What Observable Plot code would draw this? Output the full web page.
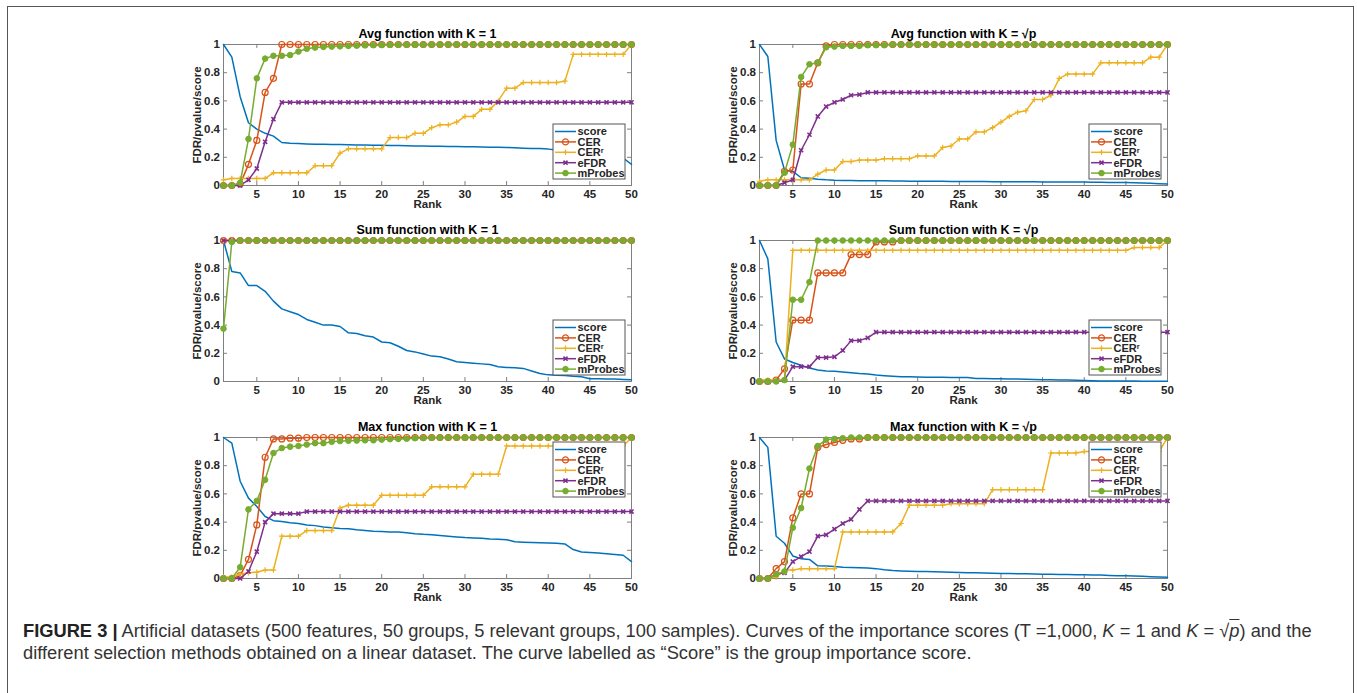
<!DOCTYPE html>
<html>
<head>
<meta charset="utf-8">
<script src="https://cdn.jsdelivr.net/npm/d3@7"></script>
<script src="https://cdn.jsdelivr.net/npm/@observablehq/plot@0.6"></script>
<style>
  body { margin: 0; background: #fff; }
  #page { position: relative; width: 1357px; height: 693px; overflow: hidden; background: #fff;
          font-family: "Liberation Sans", Arial, Helvetica, sans-serif; }
  #border { position: absolute; left: 7px; top: 6px; width: 1347px; height: 720px;
            border: 1.5px solid #555; box-sizing: border-box; }
  .panel { position: absolute; }
  #caption { position: absolute; left: 23px; top: 620px; font-size: 15.5px; line-height: 22px;
             color: #333; white-space: nowrap; }
  #caption b { color: #222; }
</style>
</head>
<body>
<div id="page">
  <div id="border"></div>
  <div id="caption"><span id="cap1"><b>FIGURE 3 |</b> Artificial datasets (500 features, 50 groups, 5 relevant groups, 100 samples). Curves of the importance scores (T =1,000, <i>K</i> = 1 and <i>K</i> = √<span style="text-decoration:overline"><i>p</i></span>) and the</span><br><span id="cap2">different selection methods obtained on a linear dataset. The curve labelled as “Score” is the group importance score.</span></div>
</div>
<script>
// ---- shared axes ----
const ranks = d3.range(1, 51);
const xTicks = [5, 10, 15, 20, 25, 30, 35, 40, 45, 50];
const yTicks = [0, 0.2, 0.4, 0.6, 0.8, 1];
const yTickLabels = ["0", "0.2", "0.4", "0.6", "0.8", "1"];
const xLabel = "Rank";
const yLabel = "FDR/pvalue/score";

// ---- series ----
const seriesNames = ["score", "CER", "CERr", "eFDR", "mProbes"];
const seriesColors = ["#0072BD", "#D95319", "#EDB120", "#7E2F8E", "#77AC30"];

// ---- Avg function, K = 1 ----
const avg1Score = [1.00,0.91,0.63,0.445,0.40,0.37,0.35,0.305,0.30,0.298,
  0.295,0.293,0.292,0.291,0.290,0.289,0.288,0.287,0.286,0.285,
  0.284,0.283,0.282,0.281,0.280,0.279,0.278,0.277,0.276,0.275,
  0.274,0.273,0.272,0.271,0.270,0.268,0.265,0.263,0.262,0.258,
  0.252,0.248,0.245,0.242,0.240,0.235,0.228,0.215,0.195,0.150];
const avg1CER = [0,0,0.01,0.15,0.32,0.66,0.76,1,1,1,
  1,1,1,1,1,1,1,1,1,1, 1,1,1,1,1,1,1,1,1,1, 1,1,1,1,1,1,1,1,1,1, 1,1,1,1,1,1,1,1,1,1];
const avg1CERr = [0.04,0.05,0.05,0.05,0.05,0.05,0.09,0.09,0.09,0.09,
  0.09,0.14,0.14,0.14,0.23,0.26,0.26,0.26,0.26,0.26,
  0.34,0.34,0.34,0.37,0.37,0.41,0.43,0.43,0.45,0.49,
  0.49,0.54,0.54,0.60,0.69,0.69,0.73,0.73,0.73,0.73,
  0.73,0.74,0.93,0.93,0.93,0.93,0.93,0.93,0.93,1.00];
const avg1eFDR = [0,0,0,0.04,0.12,0.31,0.47,0.59,0.59,0.59,
  0.59,0.59,0.59,0.59,0.59,0.59,0.59,0.59,0.59,0.59, 0.59,0.59,0.59,0.59,0.59,0.59,0.59,0.59,0.59,0.59,
  0.59,0.59,0.59,0.59,0.59,0.59,0.59,0.59,0.59,0.59, 0.59,0.59,0.59,0.59,0.59,0.59,0.59,0.59,0.59,0.59];
const avg1mProbes = [0,0,0.02,0.33,0.76,0.90,0.92,0.92,0.925,0.95,
  0.97,0.978,0.983,0.985,0.987,0.99,0.992,0.994,0.995,0.996,
  0.997,0.998,0.998,0.999,0.999,1,1,1,1,1, 1,1,1,1,1,1,1,1,1,1, 1,1,1,1,1,1,1,1,1,1];

// ---- Avg function, K = sqrt(p) ----
const avgPScore = [1.00,0.915,0.32,0.11,0.10,0.055,0.052,0.045,0.040,0.037,
  0.036,0.035,0.034,0.034,0.033,0.033,0.032,0.032,0.031,0.031,
  0.030,0.030,0.030,0.029,0.029,0.028,0.028,0.028,0.027,0.027,
  0.027,0.026,0.026,0.026,0.025,0.025,0.025,0.024,0.024,0.024,
  0.023,0.023,0.022,0.022,0.021,0.020,0.018,0.016,0.013,0.010];
const avgPCER = [0,0,0,0.10,0.11,0.72,0.72,0.87,0.99,1,
  1,1,1,1,1,1,1,1,1,1, 1,1,1,1,1,1,1,1,1,1, 1,1,1,1,1,1,1,1,1,1, 1,1,1,1,1,1,1,1,1,1];
const avgPCERr = [0.03,0.04,0.04,0.04,0.04,0.04,0.04,0.08,0.11,0.11,
  0.17,0.17,0.18,0.18,0.18,0.19,0.19,0.19,0.19,0.21,
  0.21,0.21,0.27,0.28,0.33,0.33,0.38,0.38,0.41,0.45,
  0.49,0.52,0.53,0.61,0.61,0.64,0.76,0.79,0.79,0.79,
  0.79,0.87,0.87,0.87,0.87,0.87,0.87,0.91,0.91,1.00];
const avgPeFDR = [0,0,0,0.02,0.04,0.25,0.36,0.49,0.56,0.59,
  0.61,0.64,0.645,0.66,0.66,0.66,0.66,0.66,0.66,0.66, 0.66,0.66,0.66,0.66,0.66,0.66,0.66,0.66,0.66,0.66,
  0.66,0.66,0.66,0.66,0.66,0.66,0.66,0.66,0.66,0.66, 0.66,0.66,0.66,0.66,0.66,0.66,0.66,0.66,0.66,0.66];
const avgPmProbes = [0,0,0,0.09,0.29,0.77,0.86,0.87,0.98,0.985,
  0.99,0.99,0.99,0.995,0.995,0.995,1,1,1,1, 1,1,1,1,1,1,1,1,1,1, 1,1,1,1,1,1,1,1,1,1, 1,1,1,1,1,1,1,1,1,1];

// ---- Sum function, K = 1 ----
const sum1Score = [1.00,0.78,0.77,0.68,0.68,0.64,0.57,0.515,0.495,0.475,
  0.44,0.42,0.40,0.40,0.39,0.345,0.34,0.325,0.315,0.28,
  0.275,0.25,0.22,0.21,0.195,0.18,0.175,0.16,0.14,0.135,
  0.13,0.125,0.12,0.105,0.10,0.097,0.093,0.075,0.057,0.047,
  0.045,0.043,0.037,0.033,0.02,0.02,0.018,0.017,0.015,0.012];
const sum1CER = [1,1,1,1,1,1,1,1,1,1, 1,1,1,1,1,1,1,1,1,1, 1,1,1,1,1,1,1,1,1,1, 1,1,1,1,1,1,1,1,1,1, 1,1,1,1,1,1,1,1,1,1];
const sum1CERr = [1,1,1,1,1,1,1,1,1,1, 1,1,1,1,1,1,1,1,1,1, 1,1,1,1,1,1,1,1,1,1, 1,1,1,1,1,1,1,1,1,1, 1,1,1,1,1,1,1,1,1,1];
const sum1eFDR = [1,1,1,1,1,1,1,1,1,1, 1,1,1,1,1,1,1,1,1,1, 1,1,1,1,1,1,1,1,1,1, 1,1,1,1,1,1,1,1,1,1, 1,1,1,1,1,1,1,1,1,1];
const sum1mProbes = [0.375,0.99,1,1,1,1,1,1,1,1, 1,1,1,1,1,1,1,1,1,1, 1,1,1,1,1,1,1,1,1,1, 1,1,1,1,1,1,1,1,1,1, 1,1,1,1,1,1,1,1,1,1];

// ---- Sum function, K = sqrt(p) ----
const sumPScore = [1.00,0.87,0.28,0.16,0.135,0.115,0.095,0.082,0.075,0.072,
  0.068,0.062,0.056,0.053,0.046,0.041,0.037,0.034,0.033,0.032,
  0.031,0.030,0.030,0.029,0.029,0.028,0.022,0.021,0.020,0.019,
  0.018,0.017,0.016,0.014,0.013,0.012,0.011,0.010,0.008,0.007,
  0.005,0.004,0.004,0.003,0.003,0.003,0.002,0.002,0.002,0.002];
const sumPCER = [0,0,0.01,0.09,0.435,0.435,0.435,0.77,0.77,0.77,
  0.77,0.90,0.90,0.90,0.99,0.99,0.99,1,1,1, 1,1,1,1,1,1,1,1,1,1, 1,1,1,1,1,1,1,1,1,1, 1,1,1,1,1,1,1,1,1,1];
const sumPCERr = [0.01,0.01,0.01,0.01,0.93,0.93,0.93,0.93,0.93,0.93,
  0.93,0.93,0.93,0.93,0.93,0.93,0.93,0.93,0.93,0.93, 0.93,0.93,0.93,0.93,0.93,0.93,0.93,0.93,0.93,0.93,
  0.93,0.93,0.93,0.93,0.93,0.93,0.93,0.93,0.93,0.93, 0.93,0.93,0.93,0.93,0.93,0.95,0.95,0.95,0.95,1.00];
const sumPeFDR = [0,0,0,0.01,0.105,0.105,0.105,0.17,0.17,0.175,
  0.22,0.29,0.29,0.31,0.35,0.35,0.35,0.35,0.35,0.35, 0.35,0.35,0.35,0.35,0.35,0.35,0.35,0.35,0.35,0.35,
  0.35,0.35,0.35,0.35,0.35,0.35,0.35,0.35,0.35,0.35, 0.35,0.35,0.35,0.35,0.35,0.35,0.35,0.35,0.35,0.35];
const sumPmProbes = [0,0,0,0.01,0.58,0.58,0.705,1,1,1,
  1,1,1,1,1,1,1,1,1,1, 1,1,1,1,1,1,1,1,1,1, 1,1,1,1,1,1,1,1,1,1, 1,1,1,1,1,1,1,1,1,1];

// ---- Max function, K = 1 ----
const max1Score = [1.00,0.96,0.69,0.57,0.51,0.44,0.41,0.405,0.395,0.39,
  0.38,0.375,0.365,0.36,0.355,0.352,0.345,0.34,0.335,0.333,
  0.33,0.33,0.325,0.318,0.313,0.31,0.305,0.30,0.295,0.29,
  0.288,0.286,0.28,0.278,0.275,0.26,0.257,0.255,0.253,0.252,
  0.25,0.245,0.205,0.188,0.185,0.18,0.175,0.17,0.165,0.12];
const max1CER = [0,0,0.02,0.135,0.38,0.86,0.99,0.99,0.995,0.995,
  1,1,1,1,1,1,1,1,1,1, 1,1,1,1,1,1,1,1,1,1, 1,1,1,1,1,1,1,1,1,1, 1,1,1,1,1,1,1,1,1,1];
const max1CERr = [0.01,0.01,0.03,0.04,0.045,0.06,0.06,0.30,0.30,0.30,
  0.34,0.34,0.34,0.34,0.50,0.52,0.52,0.52,0.52,0.59,
  0.59,0.59,0.59,0.59,0.59,0.65,0.65,0.65,0.65,0.65,
  0.74,0.74,0.74,0.74,0.94,0.94,0.94,0.94,0.94,0.94,
  0.94,0.94,0.94,0.94,0.94,0.94,0.94,0.94,0.94,1.00];
const max1eFDR = [0,0,0,0.05,0.19,0.40,0.46,0.46,0.46,0.46,
  0.475,0.475,0.475,0.475,0.475,0.475,0.475,0.475,0.475,0.475, 0.475,0.475,0.475,0.475,0.475,0.475,0.475,0.475,0.475,0.475,
  0.475,0.475,0.475,0.475,0.475,0.475,0.475,0.475,0.475,0.475, 0.475,0.475,0.475,0.475,0.475,0.475,0.475,0.475,0.475,0.475];
const max1mProbes = [0,0,0.08,0.49,0.55,0.70,0.89,0.925,0.935,0.94,
  0.95,0.96,0.96,0.97,0.975,0.977,0.978,0.98,0.98,0.985,
  0.988,0.99,0.992,0.995,0.996,0.998,0.999,1,1,1, 1,1,1,1,1,1,1,1,1,1, 1,1,1,1,1,1,1,1,1,1];

// ---- Max function, K = sqrt(p) ----
const maxPScore = [1.00,0.93,0.30,0.25,0.16,0.14,0.135,0.09,0.088,0.085,
  0.08,0.078,0.077,0.074,0.07,0.062,0.056,0.053,0.051,0.05,
  0.049,0.048,0.046,0.045,0.043,0.041,0.04,0.039,0.037,0.036,
  0.035,0.034,0.033,0.032,0.031,0.03,0.029,0.028,0.027,0.026,
  0.025,0.024,0.022,0.02,0.019,0.018,0.016,0.013,0.01,0.008];
const maxPCER = [0,0,0.07,0.12,0.43,0.60,0.60,0.93,0.95,0.965,
  0.98,0.99,0.99,1,1,1,1,1,1,1, 1,1,1,1,1,1,1,1,1,1, 1,1,1,1,1,1,1,1,1,1, 1,1,1,1,1,1,1,1,1,1];
const maxPCERr = [0,0,0.01,0.06,0.06,0.07,0.07,0.07,0.07,0.07,
  0.33,0.33,0.33,0.33,0.33,0.33,0.33,0.39,0.52,0.52,
  0.52,0.52,0.52,0.53,0.53,0.53,0.53,0.53,0.63,0.63,
  0.63,0.63,0.63,0.63,0.63,0.89,0.89,0.89,0.89,0.90,
  0.90,0.90,0.90,0.90,0.90,0.90,0.90,0.90,0.90,1.00];
const maxPeFDR = [0,0,0.03,0.04,0.12,0.155,0.19,0.30,0.31,0.35,
  0.39,0.42,0.49,0.55,0.55,0.55,0.55,0.55,0.55,0.55, 0.55,0.55,0.55,0.55,0.55,0.55,0.55,0.55,0.55,0.55,
  0.55,0.55,0.55,0.55,0.55,0.55,0.55,0.55,0.55,0.55, 0.55,0.55,0.55,0.55,0.55,0.55,0.55,0.55,0.55,0.55];
const maxPmProbes = [0,0,0.03,0.05,0.36,0.50,0.78,0.94,0.985,0.99,
  0.995,1,1,1,1,1,1,1,1,1, 1,1,1,1,1,1,1,1,1,1, 1,1,1,1,1,1,1,1,1,1, 1,1,1,1,1,1,1,1,1,1];

// ---- panel list ----
const panels = [
  {title: "Avg function with K = 1",  left: 158, top: 19,  legend: "bottom", values: [avg1Score, avg1CER, avg1CERr, avg1eFDR, avg1mProbes]},
  {title: "Avg function with K = √p", left: 694, top: 19,  legend: "bottom", values: [avgPScore, avgPCER, avgPCERr, avgPeFDR, avgPmProbes]},
  {title: "Sum function with K = 1",  left: 158, top: 215, legend: "bottom", values: [sum1Score, sum1CER, sum1CERr, sum1eFDR, sum1mProbes]},
  {title: "Sum function with K = √p", left: 694, top: 215, legend: "bottom", values: [sumPScore, sumPCER, sumPCERr, sumPeFDR, sumPmProbes]},
  {title: "Max function with K = 1",  left: 158, top: 412, legend: "top",    values: [max1Score, max1CER, max1CERr, max1eFDR, max1mProbes]},
  {title: "Max function with K = √p", left: 694, top: 412, legend: "top",    values: [maxPScore, maxPCER, maxPCERr, maxPeFDR, maxPmProbes]}
];

// marker style per series (null = plain line)
const markerStyle = [
  null,
  {symbol: "circle", r: 3, fill: "none", strokeWidth: 1.2},
  {symbol: "plus", r: 1.9, fill: "none", strokeWidth: 1.2},
  {symbol: "times", r: 2, fill: "none", strokeWidth: 1.6},
  {symbol: "circle", r: 2.8, fill: "color", strokeWidth: 1}
];
const d3Symbols = {circle: d3.symbolCircle, plus: d3.symbolPlus, times: d3.symbolTimes};

const axisColor = "#7f7f7f";
const textColor = "#262626";
const font = "'Liberation Sans', Arial, Helvetica, sans-serif";

function drawPanel(p) {
  const marks = [Plot.frame({stroke: axisColor, strokeWidth: 1})];

  // inward tick marks on all four sides
  marks.push(
    Plot.ruleX(xTicks, {x: d => d, y1: 0, y2: 0.028, stroke: axisColor}),
    Plot.ruleX(xTicks, {x: d => d, y1: 1, y2: 0.972, stroke: axisColor}),
    Plot.ruleY(yTicks, {y: d => d, x1: 1, x2: 1.48, stroke: axisColor}),
    Plot.ruleY(yTicks, {y: d => d, x1: 50, x2: 49.52, stroke: axisColor})
  );

  seriesNames.forEach((name, k) => {
    const rows = p.values[k].map((v, i) => ({rank: ranks[i], value: v}));
    const color = seriesColors[k];
    marks.push(Plot.line(rows, {x: "rank", y: "value", stroke: color, strokeWidth: 1.5}));
    const m = markerStyle[k];
    if (m) {
      marks.push(Plot.dot(rows, {
        x: "rank", y: "value", symbol: m.symbol, r: m.r,
        stroke: color, strokeWidth: m.strokeWidth,
        fill: m.fill === "color" ? color : "none"
      }));
    }
  });

  // tick labels, axis labels and title
  const txt = {fontSize: 11.5, fontWeight: "bold", fill: textColor, lineAnchor: "middle"};
  marks.push(
    Plot.text(xTicks, {x: d => d, frameAnchor: "bottom", dy: 8.5, text: d => String(d), ...txt}),
    Plot.text(yTicks, {y: d => d, frameAnchor: "left", dx: -3.5, textAnchor: "end",
      text: (d, i) => yTickLabels[i], ...txt}),
    Plot.text([xLabel], {frameAnchor: "bottom", dy: 18.5, text: d => d, ...txt}),
    Plot.text([yLabel], {frameAnchor: "left", dx: -26, rotate: -90, textAnchor: "middle",
      text: d => d, ...txt}),
    Plot.text([p.title], {frameAnchor: "top", dy: -10.5, text: d => d,
      fontSize: 12.5, fontWeight: "bold", fill: "#000", lineAnchor: "middle"})
  );

  const chart = Plot.plot({
    width: 483, height: 196,
    marginLeft: 65, marginRight: 10, marginTop: 25, marginBottom: 30,
    x: {domain: [1, 50], axis: null},
    y: {domain: [0, 1], axis: null},
    style: {fontFamily: font, background: "transparent", overflow: "visible"},
    marks
  });

  // legend box
  const xr = chart.scale("x").range;
  const yr = chart.scale("y").range;
  const w = 72, h = 55;
  const bx = xr[1] - 6 - w;
  const by = p.legend === "top" ? yr[1] + 5 : yr[0] - 6 - h;
  const g = d3.select(chart).append("g").attr("font-family", font).attr("text-anchor", "start");
  g.append("rect").attr("x", bx).attr("y", by).attr("width", w).attr("height", h)
    .attr("fill", "#fff").attr("stroke", "#555").attr("stroke-width", 1);
  seriesNames.forEach((name, k) => {
    const cy = by + 7.5 + k * 10.4;
    const color = seriesColors[k];
    g.append("line").attr("x1", bx + 2).attr("x2", bx + 23).attr("y1", cy).attr("y2", cy)
      .attr("stroke", color).attr("stroke-width", 1.5);
    const m = markerStyle[k];
    if (m) {
      g.append("path")
        .attr("d", d3.symbol(d3Symbols[m.symbol], Math.PI * m.r * m.r)())
        .attr("transform", `translate(${bx + 12.5},${cy})`)
        .attr("stroke", color).attr("stroke-width", m.strokeWidth)
        .attr("fill", m.fill === "color" ? color : "none");
    }
    const t = g.append("text").attr("x", bx + 24.5).attr("y", cy).attr("dy", "0.36em")
      .attr("text-anchor", "start")
      .attr("font-size", 11).attr("font-weight", "bold").attr("fill", textColor);
    if (name === "CERr") {
      t.append("tspan").text("CER");
      t.append("tspan").attr("dy", "-0.45em").attr("font-size", 7.5).text("r");
    } else {
      t.text(name);
    }
  });

  const wrap = document.createElement("div");
  wrap.className = "panel";
  wrap.style.left = p.left + "px";
  wrap.style.top = p.top + "px";
  wrap.appendChild(chart);
  document.getElementById("page").appendChild(wrap);
}

panels.forEach(drawPanel);

// size the caption so its first line spans the full text width
const cap = document.getElementById("caption");
const cap1 = document.getElementById("cap1");
const target = 1290;
const baseSize = 15.5;
const width1 = cap1.getBoundingClientRect().width;
cap.style.fontSize = (baseSize * target / width1).toFixed(2) + "px";
</script>
</body>
</html>
